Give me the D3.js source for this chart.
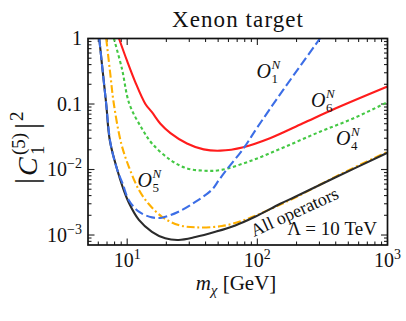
<!DOCTYPE html>
<html><head><meta charset="utf-8">
<script src="https://cdn.jsdelivr.net/npm/d3@7"></script>
<style>html,body{margin:0;padding:0;background:#fff}svg{display:block}</style>
</head><body>
<script>
// ---- data ----
const allM    = [6.1, 6.45, 6.9, 7.35, 8.4, 9.2, 10.3, 12.3, 15.5, 19.6, 24.8, 33.4, 47.6, 67.7, 96, 150, 194, 400, 1000];
const allV    = [1, 0.35, 0.1, 0.028, 0.0098, 0.0055, 0.0031, 0.0017, 0.00112, 0.00089, 0.00084, 0.00093, 0.00112, 0.0014, 0.0019, 0.0030, 0.0038, 0.0076, 0.0180];
const o1M     = [6.1, 6.45, 6.9, 7.45, 8.4, 9.2, 10.3, 12.3, 15.5, 18.5, 24.8, 33.4, 44.7, 50.4, 58.3, 78.3, 100, 158, 303];
const o1V     = [1, 0.35, 0.1, 0.025, 0.0098, 0.0062, 0.0034, 0.00227, 0.00186, 0.00184, 0.00227, 0.0032, 0.0049, 0.0068, 0.0100, 0.021, 0.044, 0.164, 1];
const o5M     = [6.9, 7.4, 7.9, 9.0, 10.3, 12.3, 14.6, 18.5, 24.8, 33.4, 53.5, 80, 121, 194, 400, 1000];
const o5V     = [1, 0.3, 0.1, 0.025, 0.011, 0.0049, 0.003, 0.0019, 0.00142, 0.00131, 0.00137, 0.0017, 0.0024, 0.0037, 0.0078, 0.0187];
const o4M     = [7.9, 9.1, 10.4, 13.0, 15.5, 21.5, 28.8, 38.7, 52, 93, 164, 303, 544, 1000];
const o4V     = [1, 0.35, 0.1, 0.042, 0.025, 0.014, 0.0104, 0.0096, 0.0098, 0.014, 0.0223, 0.0378, 0.06, 0.107];
const o6M     = [8.65, 10, 11.5, 13.8, 15.5, 18, 21.5, 28.8, 38.7, 52, 78, 125, 224, 401, 1000];
const o6V     = [1, 0.45, 0.22, 0.1, 0.075, 0.05, 0.036, 0.025, 0.0203, 0.0194, 0.0219, 0.030, 0.0507, 0.086, 0.185];
const xMajor  = [10, 100, 1000];
const xMajorExp = ["1", "2", "3"];
const yMajor  = [1, 0.1, 0.01, 0.001];
const yMajorLabels = [["1", ""], ["0.1", ""], ["10", "\u22122"], ["10", "\u22123"]];
const title = "Xenon target";
const lambdaText = "\u039B = 10 TeV";
const allText = "All operators";

// ---- layout ----
const W = 406, H = 321;
const L = 88, R = 387.5, T = 38.5, B = 245;
const FONT = "Liberation Serif";

const svg = d3.select("body").append("svg").attr("width", W).attr("height", H);
function txt(parent) { return parent.append("text").style("font-family", FONT).attr("fill", "#111"); }

const x = d3.scaleLog().domain([5, 1000]).range([L, R]);
const y = d3.scaleLog().domain([7.04e-4, 1]).range([B, T]);

svg.append("clipPath").attr("id", "clip").append("rect")
  .attr("x", L).attr("y", T).attr("width", R - L).attr("height", B - T);

// minor tick values
const xMinor = [];
[1, 10, 100].forEach(d => { for (let k = 2; k <= 9; k++) { const v = d * k; if (v > 5 && v < 1000) xMinor.push(v); } });
const yMinor = [];
[0.0001, 0.001, 0.01, 0.1].forEach(d => { for (let k = 2; k <= 9; k++) { const v = d * k; if (v > 7.04e-4 && v < 1) yMinor.push(v); } });

const tickG = svg.append("g").attr("stroke", "#222").attr("stroke-width", 1.1);
function xt(vals, len) {
  vals.forEach(v => {
    tickG.append("line").attr("x1", x(v)).attr("x2", x(v)).attr("y1", B).attr("y2", B - len);
    tickG.append("line").attr("x1", x(v)).attr("x2", x(v)).attr("y1", T).attr("y2", T + len);
  });
}
function yt(vals, len) {
  vals.forEach(v => {
    tickG.append("line").attr("y1", y(v)).attr("y2", y(v)).attr("x1", L).attr("x2", L + len);
    tickG.append("line").attr("y1", y(v)).attr("y2", y(v)).attr("x1", R).attr("x2", R - len);
  });
}
xt(xMajor, 6.5); xt(xMinor, 3.5); yt(yMajor, 6.5); yt(yMinor, 3.5);

// curves
const line = d3.line().x(d => x(d[0])).y(d => y(d[1])).curve(d3.curveCatmullRom.alpha(0.5));
const curves = [
  {m: o6M, v: o6V, color: "#ff1c1c", dash: null},
  {m: o4M, v: o4V, color: "#44c844", dash: "3.2,2.6"},
  {m: o5M, v: o5V, color: "#ffb000", dash: "8,2.8,2,2.8"},
  {m: allM, v: allV, color: "#2b2b2b", dash: null},
  {m: o1M, v: o1V, color: "#3c6ee6", dash: "9,3.6"}
];
const cg = svg.append("g").attr("clip-path", "url(#clip)");
curves.forEach(c => {
  cg.append("path").datum(c.m.map((m, i) => [m, c.v[i]]))
    .attr("d", line).attr("fill", "none").attr("stroke", c.color)
    .attr("stroke-width", 2.1).attr("stroke-dasharray", c.dash);
});

// frame
svg.append("rect").attr("x", L).attr("y", T).attr("width", R - L).attr("height", B - T)
  .attr("fill", "none").attr("stroke", "#111").attr("stroke-width", 1.7);

// tick labels
xMajor.forEach((v, i) => {
  const t = txt(svg).attr("x", x(v)).attr("y", 266.5).attr("text-anchor", "middle").attr("font-size", 20);
  t.append("tspan").text("10");
  t.append("tspan").attr("dy", -8).attr("font-size", 14).text(xMajorExp[i]);
});
yMajor.forEach((v, i) => {
  const t = txt(svg).attr("x", 82).attr("y", y(v) + 6.5).attr("text-anchor", "end").attr("font-size", 20);
  t.append("tspan").text(yMajorLabels[i][0]);
  if (yMajorLabels[i][1]) t.append("tspan").attr("dy", -8).attr("font-size", 14).text(yMajorLabels[i][1]);
});

// title
txt(svg).attr("x", 237.5).attr("y", 27).attr("text-anchor", "middle")
  .attr("font-size", 23).attr("textLength", 131).attr("lengthAdjust", "spacing").text(title);

// x label
{
  const t = txt(svg).attr("x", 236).attr("y", 290).attr("text-anchor", "middle").attr("font-size", 21);
  t.append("tspan").attr("font-style", "italic").text("m");
  t.append("tspan").attr("dy", 4.5).attr("font-size", 15).attr("font-style", "italic").text("\u03C7");
  t.append("tspan").attr("dy", -4.5).text(" [GeV]");
}

// y label (rotated)
{
  const g = svg.append("g").attr("transform", "translate(37,184) rotate(-90)");
  txt(g).attr("x", 0).attr("y", 0).attr("font-size", 31).text("|");
  txt(g).attr("x", 8).attr("y", 0).attr("font-size", 28).attr("font-style", "italic").text("C");
  txt(g).attr("x", 29).attr("y", -12).attr("font-size", 19).text("(5)");
  txt(g).attr("x", 29).attr("y", 7).attr("font-size", 19).text("1");
  txt(g).attr("x", 55).attr("y", 0).attr("font-size", 31).text("|");
  txt(g).attr("x", 63).attr("y", -14).attr("font-size", 19).text("2");
}

// operator labels
const opLabels = [
  {x: 256.5, y: 78, sub: "1"},
  {x: 311, y: 107, sub: "6"},
  {x: 336, y: 145, sub: "4"},
  {x: 137.5, y: 187, sub: "5"}
];
opLabels.forEach(o => {
  const g = svg.append("g");
  txt(g).attr("x", o.x).attr("y", o.y).attr("font-size", 20).attr("font-style", "italic").text("O");
  txt(g).attr("x", o.x + 15).attr("y", o.y - 9.5).attr("font-size", 13).attr("font-style", "italic").text("N");
  txt(g).attr("x", o.x + 15).attr("y", o.y + 4.5).attr("font-size", 13).text(o.sub);
});

// All operators (rotated along the curve)
txt(svg).attr("transform", "translate(254,237) rotate(-24.5)").attr("font-size", 18).text(allText);
// Lambda
txt(svg).attr("x", 377).attr("y", 235).attr("text-anchor", "end").attr("font-size", 19).text(lambdaText);
</script>
</body></html>
